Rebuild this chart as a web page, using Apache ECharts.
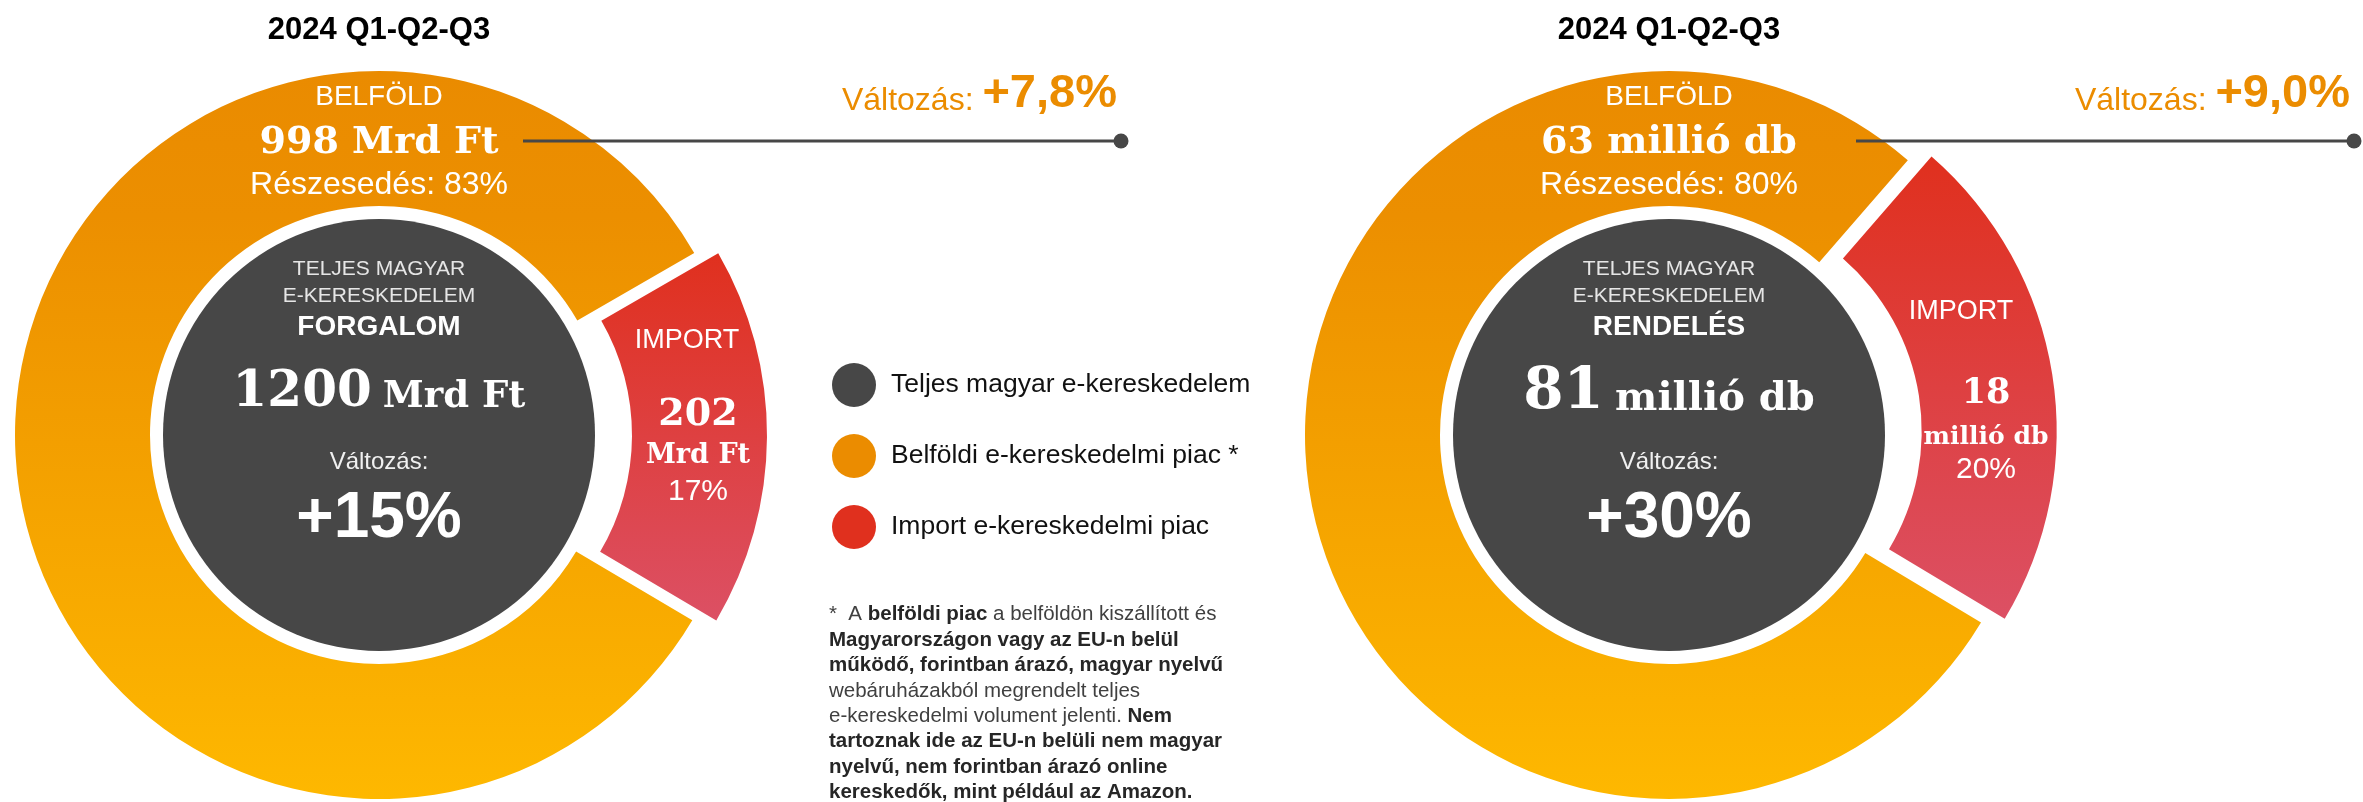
<!DOCTYPE html>
<html>
<head>
<meta charset="utf-8">
<title>Magyar e-kereskedelem 2024 Q1-Q2-Q3</title>
<script src="https://cdn.jsdelivr.net/npm/echarts@6/dist/echarts.min.js"></script>
<style>
  html, body { margin: 0; padding: 0; background: #fff; }
  #chart { width: 2363px; height: 802px; }
</style>
</head>
<body>
<div id="chart"></div>
<script>
// adatok
const periods = ['2024 Q1-Q2-Q3', '2024 Q1-Q2-Q3']
const metricNames = ['FORGALOM', 'RENDELÉS']
const units = ['Mrd Ft', 'millió db']
const totalValues = [1200, 81]
const belfoldValues = [998, 63]
const importValues = [202, 18]
const belfoldShares = ['83%', '80%']
const importShares = ['17%', '20%']
const totalChanges = ['+15%', '+30%']
const belfoldChanges = ['+7,8%', '+9,0%']
const legendNames = ['Teljes magyar e-kereskedelem', 'Belföldi e-kereskedelmi piac *', 'Import e-kereskedelmi piac']

const SANS = 'Liberation Sans, Arial, sans-serif'
const SERIF = 'DejaVu Serif, Georgia, serif'
const DARK = '#474747'
const ORANGE = '#EB8C00'
const RED = '#E0301E'

// elrendezés (pozíciók)
const centers = [[379, 435], [1669, 435]]
const startAngles = [30, 49]
const calloutStart = [523, 1856]
const calloutEnd = [1121, 2354]
const importLayout = [
  { title: [308, -94], value: [319, -20], unit: [319, 21], share: [319, 57], valueSize: 38, unitSize: 27 },
  { title: [292, -123], value: [317, -41], unit: [317, 2], share: [317, 35], valueSize: 35, unitSize: 25 }
]
const bigSizes = [[50, 37], [58, 40]]

const chart = echarts.init(document.getElementById('chart'))

function txt(x, y, text, size, o) {
  o = o || {}
  return {
    type: 'text', x: x, y: y, silent: true, z: 100,
    style: {
      legacy: false,
      text: text,
      fontSize: size,
      fontFamily: o.family || SANS,
      fontWeight: o.weight || 'normal',
      fill: o.color || '#fff',
      align: o.align || 'center',
      verticalAlign: o.va || 'middle',
      rich: o.rich
    }
  }
}

const series = []
const graphics = []

centers.forEach((c, i) => {
  const cx = c[0], cy = c[1]
  // sötét kör: teljes piac
  series.push({
    type: 'pie', center: c, radius: [0, 216], silent: true,
    label: { show: false }, labelLine: { show: false },
    emphasis: { disabled: true },
    data: [{ name: legendNames[0], value: totalValues[i], itemStyle: { color: DARK } }]
  })
  // külső gyűrű: import + belföld
  series.push({
    type: 'pie', center: c, radius: [229, 364], startAngle: startAngles[i], clockwise: true,
    selectedMode: 'single', selectedOffset: 24, silent: true,
    label: { show: false }, labelLine: { show: false },
    emphasis: { disabled: true },
    itemStyle: { borderColor: '#fff', borderWidth: 0 },
    data: [
      {
        name: legendNames[2], value: importValues[i], selected: true,
        itemStyle: { color: new echarts.graphic.LinearGradient(0, 0, 0, 1, [{ offset: 0, color: '#E0301E' }, { offset: 1, color: '#DC5064' }]) },
        select: { itemStyle: { color: new echarts.graphic.LinearGradient(0, 0, 0, 1, [{ offset: 0, color: '#E0301E' }, { offset: 1, color: '#DC5064' }]) } }
      },
      {
        name: legendNames[1], value: belfoldValues[i],
        itemStyle: { color: new echarts.graphic.LinearGradient(0, 0, 0, 1, [{ offset: 0, color: '#EA8B00' }, { offset: 0.2, color: '#EC8F00' }, { offset: 1, color: '#FEB800' }]) }
      }
    ]
  })

  // feliratok
  graphics.push(txt(cx, 30, periods[i], 31, { weight: 'bold', color: '#000' }))
  graphics.push(txt(cx, cy - 338, 'BELFÖLD', 28))
  graphics.push(txt(cx, cy - 292, belfoldValues[i] + ' ' + units[i], 38, { family: SERIF, weight: 'bold' }))
  graphics.push(txt(cx, cy - 250, 'Részesedés: ' + belfoldShares[i], 32))

  graphics.push(txt(cx, cy - 166, 'TELJES MAGYAR', 21, { color: '#E6E6E6' }))
  graphics.push(txt(cx, cy - 139, 'E-KERESKEDELEM', 21, { color: '#E6E6E6' }))
  graphics.push(txt(cx, cy - 108, metricNames[i], 28, { weight: 'bold' }))
  graphics.push(txt(cx, cy - 42, '{a|' + totalValues[i] + '} {b|' + units[i] + '}', 40, {
    rich: {
      a: { fontSize: bigSizes[i][0], fontFamily: SERIF, fontWeight: 'bold', fill: '#fff', verticalAlign: 'bottom' },
      b: { fontSize: bigSizes[i][1], fontFamily: SERIF, fontWeight: 'bold', fill: '#fff', verticalAlign: 'bottom', padding: [0, 0, 2, 0] }
    }
  }))
  graphics.push(txt(cx, cy + 27, 'Változás:', 24, { color: '#F0F0F0' }))
  graphics.push(txt(cx, cy + 84, totalChanges[i], 64, { weight: 'bold' }))

  const L = importLayout[i]
  graphics.push(txt(cx + L.title[0], cy + L.title[1], 'IMPORT', 27))
  graphics.push(txt(cx + L.value[0], cy + L.value[1], String(importValues[i]), L.valueSize, { family: SERIF, weight: 'bold' }))
  graphics.push(txt(cx + L.unit[0], cy + L.unit[1], units[i], L.unitSize, { family: SERIF, weight: 'bold' }))
  graphics.push(txt(cx + L.share[0], cy + L.share[1], importShares[i], 30))

  // változás a belföldi piacon + vonal
  graphics.push(txt(calloutEnd[i] - 4, 94, '{a|Változás: }{b|' + belfoldChanges[i] + '}', 32, {
    align: 'right',
    rich: {
      a: { fontSize: 32, fontFamily: SANS, fill: ORANGE, verticalAlign: 'bottom' },
      b: { fontSize: 47, fontFamily: SANS, fontWeight: 'bold', fill: ORANGE, verticalAlign: 'bottom' }
    }
  }))
  graphics.push({
    type: 'line', silent: true, z: 100,
    shape: { x1: calloutStart[i], y1: 141, x2: calloutEnd[i], y2: 141 },
    style: { stroke: DARK, lineWidth: 3 }
  })
  graphics.push({
    type: 'circle', silent: true, z: 100,
    shape: { cx: calloutEnd[i], cy: 141, r: 7.5 },
    style: { fill: DARK }
  })
})

// lábjegyzet
const footLines = [
  '{n|*  A }{b|belföldi piac}{n| a belföldön kiszállított és}',
  '{b|Magyarországon vagy az EU-n belül}',
  '{b|működő, forintban árazó, magyar nyelvű}',
  '{n|webáruházakból megrendelt teljes}',
  '{n|e-kereskedelmi volument jelenti. }{b|Nem}',
  '{b|tartoznak ide az EU-n belüli nem magyar}',
  '{b|nyelvű, nem forintban árazó online}',
  '{b|kereskedők, mint például az Amazon.}'
]
graphics.push({
  type: 'text', x: 829, y: 602, silent: true, z: 100,
  style: {
    legacy: false,
    text: footLines.join('\n'),
    align: 'left', verticalAlign: 'top',
    rich: {
      n: { fontSize: 20.5, fontFamily: SANS, fill: '#404040', lineHeight: 25.4 },
      b: { fontSize: 20.5, fontFamily: SANS, fontWeight: 'bold', fill: '#262626', lineHeight: 25.4 }
    }
  }
})

chart.setOption({
  animation: false,
  backgroundColor: '#fff',
  legend: {
    orient: 'vertical',
    left: 827, top: 358,
    icon: 'circle',
    itemWidth: 44, itemHeight: 44, itemGap: 27,
    selectedMode: false,
    textStyle: { fontSize: 26.5, fontFamily: SANS, color: '#111', padding: [0, 0, 0, 10] },
    data: [
      { name: legendNames[0], itemStyle: { color: DARK } },
      { name: legendNames[1], itemStyle: { color: ORANGE } },
      { name: legendNames[2], itemStyle: { color: RED } }
    ]
  },
  series: series,
  graphic: graphics
})
</script>
</body>
</html>
